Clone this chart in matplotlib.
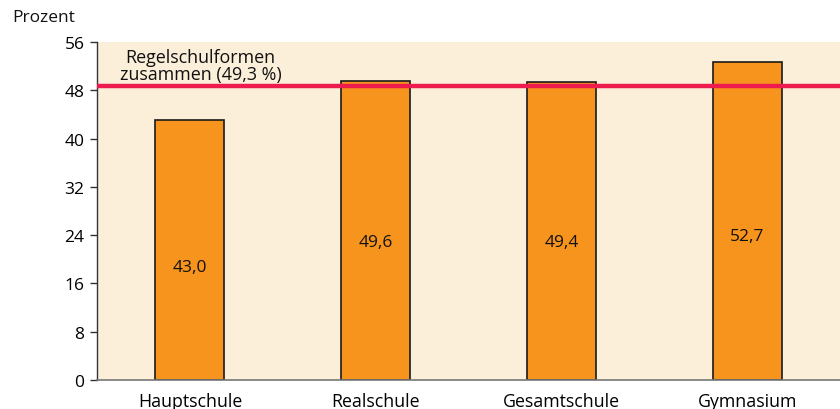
import matplotlib
matplotlib.use("Agg")
import matplotlib.pyplot as plt

categories = ["Hauptschule", "Realschule", "Gesamtschule", "Gymnasium"]
values = [43.0, 49.6, 49.4, 52.7]
value_labels = ["43,0", "49,6", "49,4", "52,7"]
label_heights = [18.7, 22.8, 22.8, 23.8]
line_value = 48.7
line_label = "Regelschulformen\nzusammen (49,3 %)"
yticks = [0, 8, 16, 24, 32, 40, 48, 56]

plt.rcParams['font.family'] = ['Open Sans', 'DejaVu Sans']

fig = plt.figure(figsize=(8.4, 4.1), dpi=100)
ax = fig.add_axes([97/840, 1 - 381/410, 743/840, 338/410])
ax.set_facecolor("#FCEFDA")

x = range(len(categories))
ax.bar(x, values, width=0.372, color="#F7941D", edgecolor="#1a1a1a", linewidth=1.2, zorder=2)
for xi, lab, h in zip(x, value_labels, label_heights):
    ax.text(xi, h, lab, ha="center", va="center", fontsize=12.5, color="#111111", zorder=3)

ax.axhline(line_value, color="#EE1C4E", linewidth=3.2, zorder=4)
ax.text(0.057, line_value + 0.45, line_label, ha="center", va="bottom", fontsize=12.9,
        color="#111111", linespacing=0.95, zorder=5)

ax.set_xlim(-0.5, 3.5)
ax.set_ylim(0, 56)
ax.set_yticks(yticks)
ax.set_yticklabels([str(t) for t in yticks], fontsize=12.5)
ax.set_xticks(list(x))
ax.set_xticklabels(categories, fontsize=12.8)
ax.tick_params(axis="x", length=0, pad=9)
ax.tick_params(axis="y", length=5, width=1, color="#333333", pad=4)

for s in ["top", "right"]:
    ax.spines[s].set_visible(False)
ax.spines["left"].set_color("#333333")
ax.spines["bottom"].set_color("#777777")
ax.spines["left"].set_linewidth(1)
ax.spines["bottom"].set_linewidth(1.2)

fig.text(12/840, 1 - 18/410, "Prozent", ha="left", va="center", fontsize=12.5, color="#111111")

fig.savefig("out.png", dpi=100)
